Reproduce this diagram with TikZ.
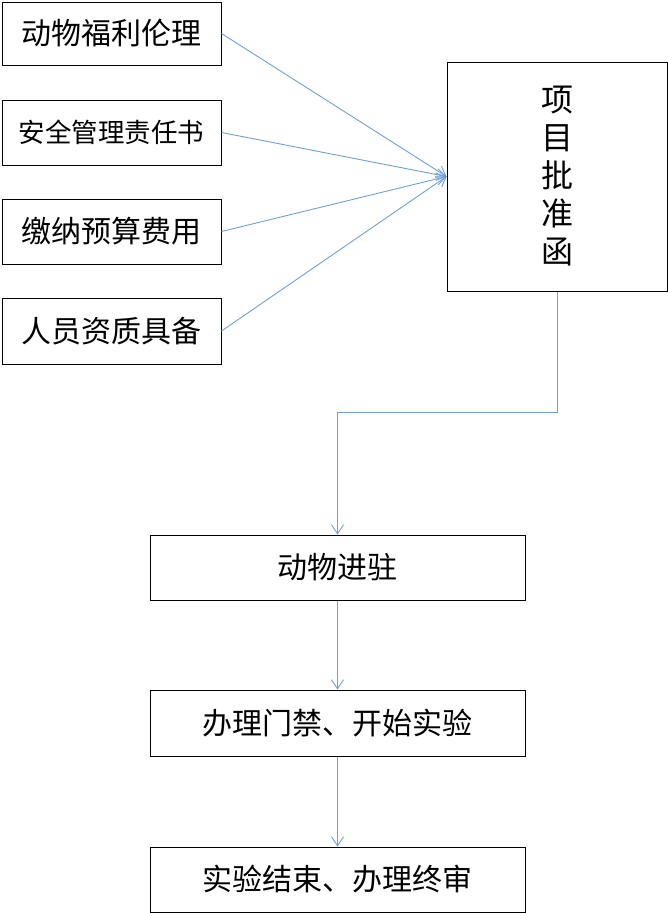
\documentclass[tikz,border=0pt]{standalone}
\usepackage{fontspec}
\usepackage{xcolor}
\usetikzlibrary{arrows.meta}
\newfontfamily\cjk{Noto Sans CJK SC}
\definecolor{lineblue}{RGB}{110,160,220}

\begin{document}
\begin{tikzpicture}[x=1pt,y=-1pt,
    box/.style={draw=black, line width=1pt, inner sep=0pt, align=center,
                font=\cjk\fontsize{30}{33}\selectfont},
    smallbox/.style={box, font=\cjk\fontsize{26.5}{29}\selectfont},
    flow/.style={draw=lineblue, line width=0.9pt, -{Straight Barb[length=9pt,width=12pt]}}]
    \useasboundingbox (0,0) rectangle (668,913);
    % inputs on the left
    \node[box, minimum width=219pt, minimum height=63pt] (welfare) at (111.5,33.5) {动物福利伦理};
    \node[smallbox, minimum width=219pt, minimum height=65pt] (safety) at (111.5,132.5) {安全管理责任书};
    \node[box, minimum width=219pt, minimum height=65pt] (budget) at (111.5,231.5) {缴纳预算费用};
    \node[box, minimum width=219pt, minimum height=66pt] (staff) at (111.5,331) {人员资质具备};
    % approval letter
    \node[box, minimum width=220pt, minimum height=229pt, font=\cjk\fontsize{32}{38}\selectfont] (approval) at (557,176.5) {项\\目\\批\\准\\函};
    % steps below
    \node[box, minimum width=375pt, minimum height=65pt] (entry) at (337.5,567.5) {动物进驻};
    \node[box, minimum width=375pt, minimum height=66pt] (start) at (337.5,723) {办理门禁、开始实验};
    \node[box, minimum width=375pt, minimum height=65pt] (finish) at (337.5,879.5) {实验结束、办理终审};
    \coordinate (turn) at (557,412);

    \draw[flow] (welfare.east) -- (approval.west);
    \draw[flow] (safety.east) -- (approval.west);
    \draw[flow] (budget.east) -- (approval.west);
    \draw[flow] (staff.east) -- (approval.west);
    \draw[flow] (approval.south) -- (turn) -| (entry.north);
    \draw[flow] (entry) -- (start);
    \draw[flow] (start) -- (finish);
\end{tikzpicture}
\end{document}
